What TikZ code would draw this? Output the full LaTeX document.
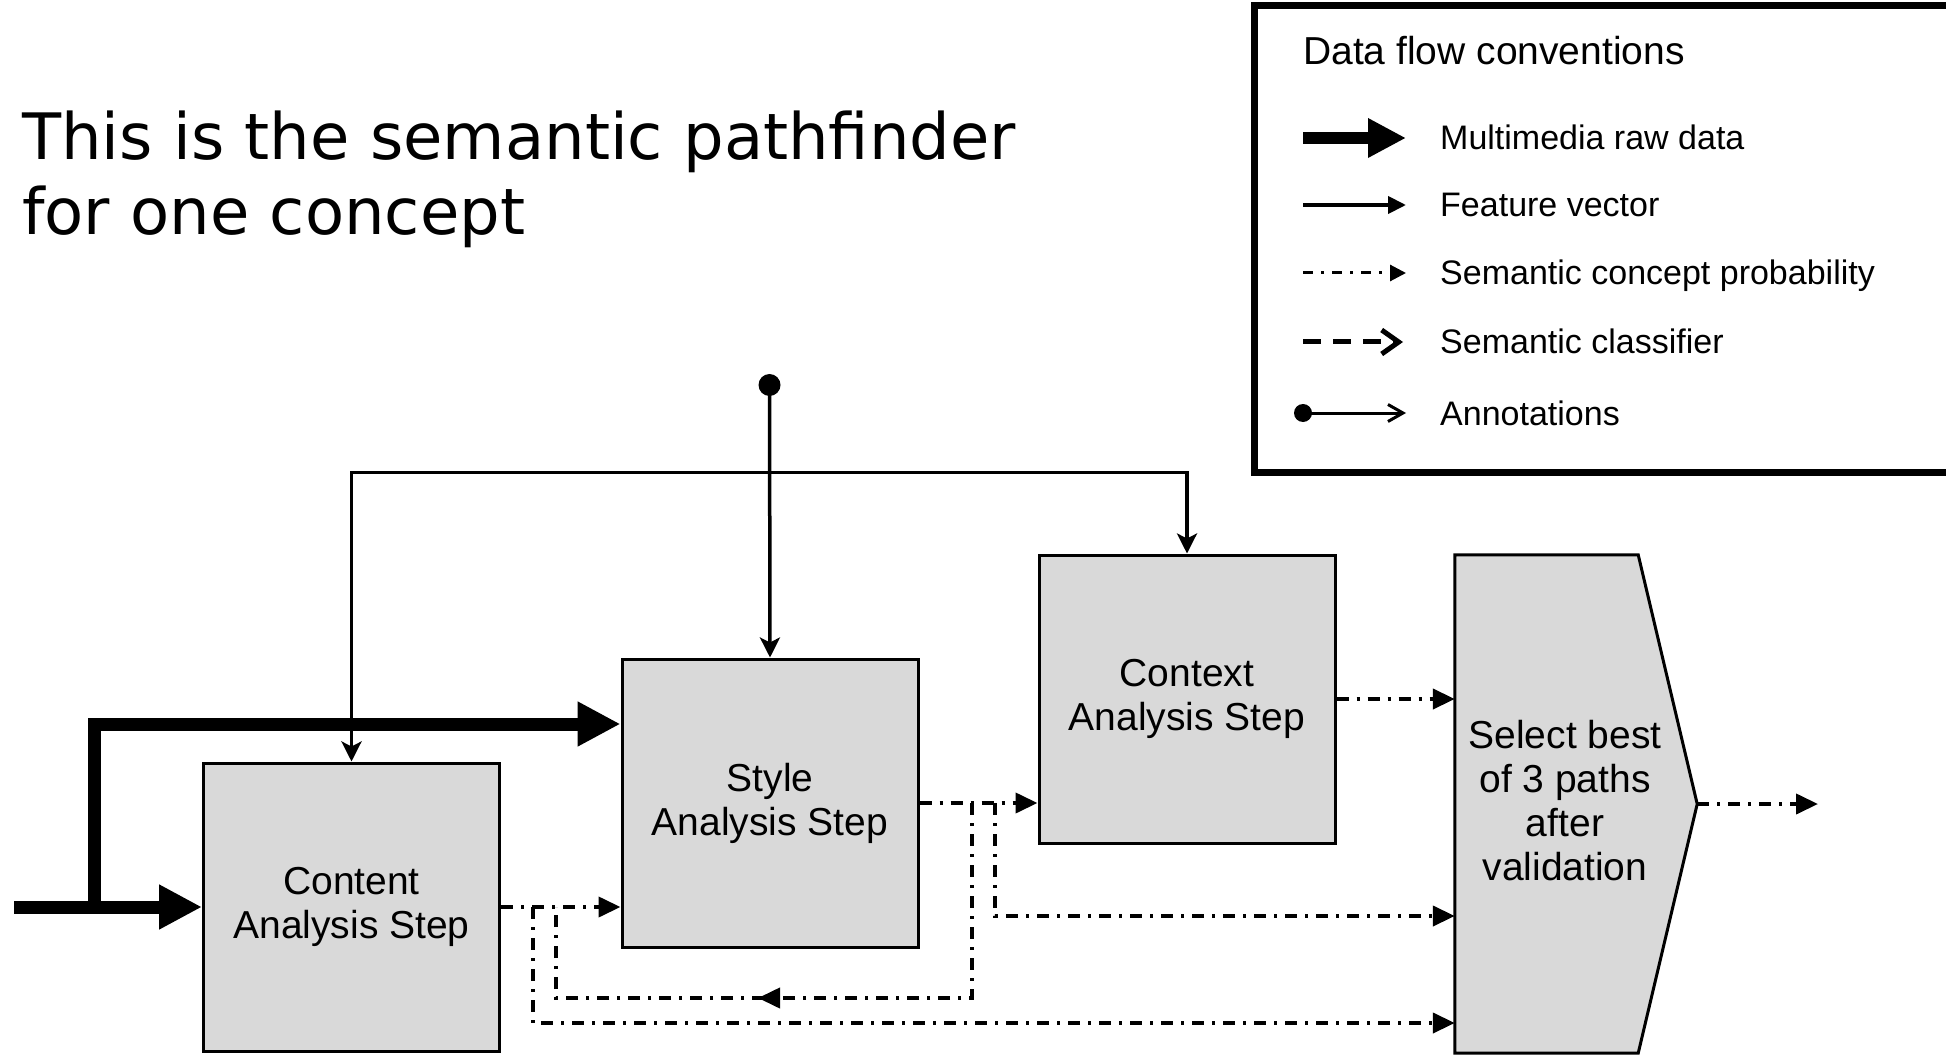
\documentclass[tikz,border=0pt]{standalone}
\usepackage{fontspec}
\setmainfont{Liberation Sans}
\newfontfamily\titlefont{DejaVu Sans}
\usetikzlibrary{arrows.meta,calc,decorations.markings}
\definecolor{boxgray}{RGB}{217,217,217}

\begin{document}
\begin{tikzpicture}[x=1pt,y=-1pt,
  stepbox/.style={draw=black, line width=3pt, fill=boxgray, minimum width=296pt,
    minimum height=288pt, inner sep=0pt, align=center, font=\fontsize{39}{44}\selectfont},
  rawdata/.style={line width=13pt, line join=miter},
  rawtip/.style={-{Triangle[length=43pt,width=42pt]}},
  feature/.style={line width=3.5pt},
  probline/.style={line width=4pt, dash pattern=on 12pt off 8pt on 3pt off 8pt},
  probtip/.style={-{Triangle[length=22pt,width=20pt]}},
  legtext/.style={anchor=base west, inner sep=0pt, font=\fontsize{34}{40}\selectfont},
]
\useasboundingbox (0,0) rectangle (1946,1056);

% heading (base anchor sits on the last line)
\node[anchor=base west, inner sep=0pt, align=left,
      font=\titlefont\fontsize{64}{75}\selectfont] (title) at (22,235)
  {This is the semantic pathfinder\\for one concept};

% analysis steps
\node[stepbox] (content) at (351.5,907) {Content\\Analysis Step};
\node[stepbox] (style)   at (770,803)   {Style\\Analysis Step};
\node[stepbox] (context) at (1187,699)  {Context\\Analysis Step};

% selection block with pointed right side
\node[minimum width=183pt, minimum height=498pt, inner sep=0pt] (select) at (1546.5,804) {};
\coordinate (selpoint) at ($(select.east)+(59,0)$);
\filldraw[line width=3pt, fill=boxgray, line join=miter]
  (select.north west) -- (select.north east) -- (selpoint)
  -- (select.south east) -- (select.south west) -- cycle;
\node[align=center, inner sep=0pt, font=\fontsize{39}{44}\selectfont] (selecttext) at (1565,801)
  {Select best\\of 3 paths\\after\\validation};

% multimedia raw data
\coordinate (rawin) at (14,907);
\coordinate (rawsplit) at (94,907);
\coordinate (rawlevel) at (0,724);
\draw[rawdata, rawtip] (rawin) -- (content.west);
\draw[rawdata, rawtip] (rawsplit) -- (rawsplit |- rawlevel) -- (style.west |- rawlevel);

% feature vector from content to context
\draw[feature, {Stealth[length=20pt,width=20pt,inset=5pt]}-{Stealth[length=20pt,width=20pt,inset=5pt]}]
  (content.north) -- ++(0,-289) -| (context.north);

% annotations
\node[circle, fill=black, minimum size=22pt, inner sep=0pt] (annot) at (769.5,385) {};
\draw[feature, -{Stealth[length=20pt,width=20pt,inset=5pt]}] (annot.center) -- (style.north);

% semantic concept probabilities
\coordinate (c1) at (533,907);
\coordinate (c2) at (556,907);
\coordinate (s1) at (972,803);
\coordinate (s2) at (995,803);
\coordinate (lvlA) at (0,1023);
\coordinate (lvlB) at (0,998);
\coordinate (lvlC) at (0,916);
\coordinate (finalout) at (1818,804);

\draw[probline, probtip] (content.east) -- (style.west |- content.east);
\draw[probline, probtip] (c1) |- (select.west |- lvlA);
\draw[probline, postaction={decorate}, decoration={markings,
    mark=at position 409pt with {\arrow{Triangle[length=22pt,width=20pt]}}}]
  (s1) |- (c2 |- lvlB) -- (c2);
\draw[probline, probtip] (style.east) -- (context.west |- style.east);
\draw[probline, probtip] (s2) |- (select.west |- lvlC);
\draw[probline, probtip] (context.east) -- (select.west |- context.east);
\draw[probline, probtip] (selpoint) -- (finalout);

% legend frame
\draw[line width=7pt, line join=miter] (1950,6) -- (1254,6) -- (1254,472) -- (1950,472);
\node[anchor=base west, inner sep=0pt, font=\fontsize{39}{44}\selectfont] (legtitle) at (1303,65)
  {Data flow conventions};

\coordinate (k1a) at (1303,138); \coordinate (k1b) at (1406,138);
\coordinate (k2a) at (1303,205); \coordinate (k2b) at (1406,205);
\coordinate (k3a) at (1303,273); \coordinate (k3b) at (1406,273);
\coordinate (k4a) at (1303,342); \coordinate (k4b) at (1403,342);
\coordinate (k5b) at (1406,413);

\draw[line width=12pt, -{Triangle[length=38pt,width=37pt]}] (k1a) -- (k1b);
\node[legtext] (t1) at (1440,150) {Multimedia raw data};

\draw[line width=4pt, -{Triangle[length=18pt,width=17pt]}] (k2a) -- (k2b);
\node[legtext] (t2) at (1440,217) {Feature vector};

\draw[line width=3pt, dash pattern=on 10pt off 8pt on 3pt off 8pt,
      -{Triangle[length=16pt,width=16pt]}] (k3a) -- (k3b);
\node[legtext] (t3) at (1440,285) {Semantic concept probability};

\draw[line width=5pt, dash pattern=on 18pt off 12pt,
      -{Straight Barb[length=17pt,width=24pt]}] (k4a) -- (k4b);
\node[legtext] (t4) at (1440,354) {Semantic classifier};

\node[circle, fill=black, minimum size=18pt, inner sep=0pt] (k5a) at (1303,413) {};
\draw[line width=3pt, -{Straight Barb[length=15pt,width=17pt]}] (k5a.center) -- (k5b);
\node[legtext] (t5) at (1440,425) {Annotations};
\end{tikzpicture}
\end{document}
